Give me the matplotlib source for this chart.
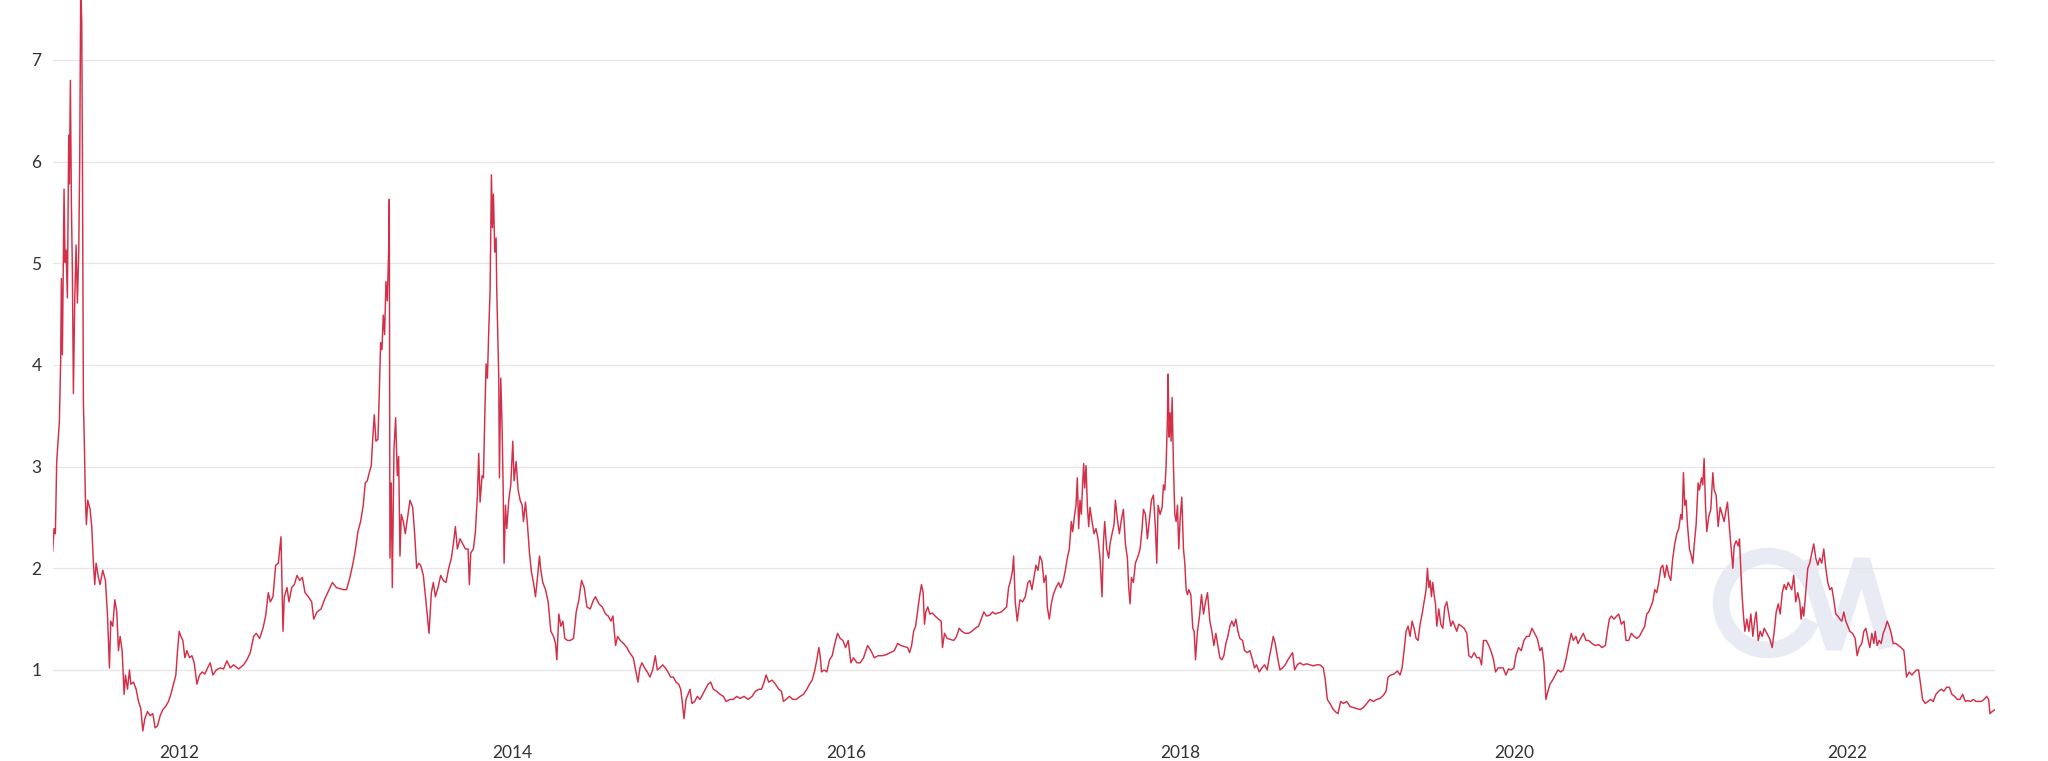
import numpy as np
import matplotlib.pyplot as plt
from matplotlib.patches import Arc
from matplotlib.lines import Line2D

plt.rcParams['font.family'] = ['Lato', 'DejaVu Sans']

# ratio, decimal years, one block per stretch of time
t_2011 = [2011.244, 2011.252, 2011.260, 2011.268, 2011.278, 2011.284, 2011.292, 2011.296, 2011.302, 2011.312,
          2011.318, 2011.324, 2011.332, 2011.340, 2011.344, 2011.350, 2011.356, 2011.362, 2011.368, 2011.376,
          2011.384, 2011.392, 2011.400, 2011.406, 2011.412, 2011.418, 2011.422, 2011.428, 2011.434, 2011.440,
          2011.446, 2011.454, 2011.468, 2011.478, 2011.488, 2011.496, 2011.504, 2011.518, 2011.528, 2011.544,
          2011.560, 2011.572, 2011.584, 2011.592, 2011.604, 2011.616, 2011.628, 2011.638, 2011.648, 2011.660,
          2011.672, 2011.680, 2011.692, 2011.704, 2011.712, 2011.728, 2011.744, 2011.758, 2011.772, 2011.784,
          2011.796, 2011.812, 2011.828, 2011.844, 2011.858, 2011.872, 2011.888, 2011.904, 2011.920, 2011.938,
          2011.952, 2011.968, 2011.982, 2011.992]
v_2011 = [2.17, 2.39, 2.34, 3.05, 3.29, 3.44, 4.06, 4.85, 4.10, 5.73,
          5.01, 5.13, 4.66, 6.26, 5.78, 6.80, 5.59, 4.92, 3.72, 4.63,
          5.18, 4.61, 5.11, 6.02, 7.75, 7.38, 6.06, 3.63, 3.20, 2.67,
          2.43, 2.67, 2.58, 2.41, 2.05, 1.84, 2.05, 1.91, 1.84, 1.98,
          1.88, 1.55, 1.02, 1.48, 1.43, 1.69, 1.57, 1.19, 1.33, 1.19,
          0.76, 0.95, 0.81, 1.00, 0.86, 0.88, 0.81, 0.69, 0.62, 0.40,
          0.52, 0.59, 0.55, 0.57, 0.43, 0.45, 0.55, 0.61, 0.64, 0.69,
          0.76, 0.86, 0.95, 1.19]

t_2012 = [2012.002, 2012.012, 2012.024, 2012.036, 2012.048, 2012.064, 2012.078, 2012.092, 2012.108, 2012.124,
          2012.140, 2012.156, 2012.172, 2012.188, 2012.204, 2012.224, 2012.248, 2012.268, 2012.288, 2012.308,
          2012.328, 2012.358, 2012.388, 2012.408, 2012.428, 2012.448, 2012.464, 2012.484, 2012.504, 2012.520,
          2012.536, 2012.548, 2012.564, 2012.580, 2012.596, 2012.612, 2012.624, 2012.632, 2012.648, 2012.660,
          2012.676, 2012.692, 2012.708, 2012.724, 2012.740, 2012.756, 2012.776, 2012.796, 2012.808, 2012.828,
          2012.852, 2012.872, 2012.892, 2012.920, 2012.944, 2012.985]
v_2012 = [1.38, 1.33, 1.29, 1.12, 1.19, 1.12, 1.14, 1.07, 0.86, 0.95,
          0.98, 0.96, 1.02, 1.07, 0.95, 1.00, 1.02, 1.01, 1.09, 1.02,
          1.05, 1.01, 1.05, 1.10, 1.17, 1.33, 1.36, 1.31, 1.41, 1.53,
          1.76, 1.67, 1.72, 2.03, 2.05, 2.31, 1.38, 1.72, 1.81, 1.67,
          1.81, 1.84, 1.93, 1.88, 1.91, 1.76, 1.72, 1.67, 1.50, 1.57,
          1.60, 1.69, 1.76, 1.86, 1.81, 1.79]

t_2013 = [2013.005, 2013.025, 2013.041, 2013.057, 2013.073, 2013.089, 2013.105, 2013.117, 2013.129, 2013.141,
          2013.153, 2013.161, 2013.171, 2013.181, 2013.193, 2013.201, 2013.209, 2013.217, 2013.225, 2013.233,
          2013.241, 2013.249, 2013.257, 2013.261, 2013.265, 2013.273, 2013.279, 2013.289, 2013.299, 2013.309,
          2013.317, 2013.325, 2013.333, 2013.345, 2013.357, 2013.369, 2013.385, 2013.401, 2013.413, 2013.425,
          2013.437, 2013.449, 2013.465, 2013.481, 2013.499, 2013.513, 2013.525, 2013.537, 2013.553, 2013.569,
          2013.585, 2013.601, 2013.617, 2013.633, 2013.645, 2013.657, 2013.669, 2013.685, 2013.701, 2013.717,
          2013.733, 2013.741, 2013.749, 2013.765, 2013.777, 2013.789, 2013.797, 2013.805, 2013.817, 2013.825,
          2013.833, 2013.841, 2013.849, 2013.857, 2013.865, 2013.873, 2013.879, 2013.885, 2013.893, 2013.901,
          2013.905, 2013.911, 2013.917, 2013.921, 2013.929, 2013.937, 2013.943, 2013.949, 2013.957, 2013.965,
          2013.977, 2013.989]
v_2013 = [1.79, 1.91, 2.03, 2.17, 2.36, 2.46, 2.62, 2.84, 2.86, 2.94,
          3.01, 3.25, 3.51, 3.25, 3.27, 3.72, 4.22, 4.15, 4.49, 4.30,
          4.82, 4.63, 5.11, 5.63, 2.10, 2.84, 1.81, 3.17, 3.48, 2.91,
          3.10, 2.12, 2.53, 2.46, 2.34, 2.48, 2.67, 2.60, 2.34, 2.00,
          2.05, 2.03, 1.93, 1.67, 1.36, 1.76, 1.86, 1.72, 1.81, 1.93,
          1.88, 1.86, 2.00, 2.10, 2.24, 2.41, 2.19, 2.29, 2.24, 2.19,
          2.19, 1.84, 2.15, 2.19, 2.36, 2.72, 3.13, 2.65, 2.91, 2.89,
          3.48, 4.01, 3.87, 4.34, 4.73, 5.87, 5.35, 5.68, 5.11, 5.25,
          4.73, 4.32, 3.87, 2.89, 3.87, 3.39, 2.82, 2.05, 2.62, 2.39,
          2.67, 2.82]

t_2014 = [2014.001, 2014.009, 2014.021, 2014.033, 2014.045, 2014.057, 2014.065, 2014.077, 2014.089, 2014.101,
          2014.113, 2014.125, 2014.137, 2014.149, 2014.161, 2014.169, 2014.181, 2014.197, 2014.213, 2014.229,
          2014.245, 2014.257, 2014.265, 2014.277, 2014.289, 2014.301, 2014.313, 2014.329, 2014.345, 2014.365,
          2014.381, 2014.397, 2014.413, 2014.429, 2014.445, 2014.465, 2014.485, 2014.497, 2014.517, 2014.537,
          2014.557, 2014.573, 2014.589, 2014.601, 2014.617, 2014.629, 2014.645, 2014.665, 2014.685, 2014.701,
          2014.723, 2014.739, 2014.751, 2014.763, 2014.775, 2014.791, 2014.807, 2014.823, 2014.839, 2014.855,
          2014.867, 2014.883, 2014.899, 2014.915, 2014.931, 2014.947, 2014.963, 2014.979, 2014.995]
v_2014 = [3.25, 2.86, 3.05, 2.77, 2.67, 2.62, 2.46, 2.65, 2.43, 2.15,
          1.96, 1.86, 1.72, 1.91, 2.12, 1.98, 1.86, 1.79, 1.67, 1.38,
          1.33, 1.26, 1.10, 1.55, 1.43, 1.48, 1.31, 1.29, 1.29, 1.31,
          1.57, 1.69, 1.88, 1.81, 1.62, 1.60, 1.69, 1.72, 1.65, 1.62,
          1.55, 1.53, 1.48, 1.53, 1.24, 1.33, 1.29, 1.26, 1.22, 1.17,
          1.12, 0.98, 0.88, 1.02, 1.07, 1.02, 0.98, 0.93, 1.00, 1.14,
          1.00, 1.02, 1.05, 1.02, 0.98, 0.93, 0.93, 0.88, 0.86]

t_2015 = [2015.007, 2015.015, 2015.027, 2015.039, 2015.051, 2015.063, 2015.075, 2015.091, 2015.107, 2015.123,
          2015.139, 2015.155, 2015.171, 2015.187, 2015.203, 2015.223, 2015.243, 2015.263, 2015.279, 2015.303,
          2015.323, 2015.343, 2015.363, 2015.387, 2015.411, 2015.435, 2015.455, 2015.475, 2015.491, 2015.507,
          2015.519, 2015.535, 2015.555, 2015.575, 2015.595, 2015.611, 2015.623, 2015.639, 2015.659, 2015.679,
          2015.699, 2015.723, 2015.743, 2015.763, 2015.779, 2015.795, 2015.811, 2015.823, 2015.835, 2015.843,
          2015.851, 2015.867, 2015.883, 2015.899, 2015.915, 2015.931, 2015.947, 2015.963, 2015.979, 2015.995]
v_2015 = [0.81, 0.71, 0.52, 0.71, 0.76, 0.81, 0.67, 0.69, 0.74, 0.71,
          0.76, 0.81, 0.86, 0.88, 0.81, 0.79, 0.76, 0.74, 0.69, 0.71,
          0.71, 0.74, 0.72, 0.74, 0.71, 0.74, 0.79, 0.81, 0.81, 0.88,
          0.95, 0.88, 0.90, 0.86, 0.81, 0.79, 0.69, 0.71, 0.74, 0.71,
          0.71, 0.74, 0.76, 0.81, 0.86, 0.90, 1.00, 1.10, 1.22, 1.14,
          0.98, 1.00, 0.98, 1.10, 1.14, 1.26, 1.36, 1.31, 1.29, 1.22]

t_2016 = [2016.011, 2016.027, 2016.043, 2016.063, 2016.083, 2016.103, 2016.127, 2016.147, 2016.167, 2016.191,
          2016.215, 2016.239, 2016.263, 2016.287, 2016.307, 2016.327, 2016.347, 2016.367, 2016.379, 2016.391,
          2016.403, 2016.415, 2016.440, 2016.450, 2016.460, 2016.468, 2016.476, 2016.488, 2016.500, 2016.516,
          2016.532, 2016.552, 2016.568, 2016.576, 2016.588, 2016.604, 2016.624, 2016.644, 2016.660, 2016.676,
          2016.692, 2016.712, 2016.732, 2016.752, 2016.772, 2016.792, 2016.808, 2016.824, 2016.840, 2016.860,
          2016.876, 2016.892, 2016.908, 2016.928, 2016.948, 2016.960, 2016.972, 2016.984, 2016.996]
v_2016 = [1.29, 1.07, 1.12, 1.07, 1.07, 1.12, 1.24, 1.19, 1.12, 1.14,
          1.14, 1.15, 1.17, 1.19, 1.26, 1.24, 1.23, 1.22, 1.17, 1.24,
          1.38, 1.43, 1.74, 1.84, 1.76, 1.45, 1.57, 1.62, 1.55, 1.56,
          1.53, 1.50, 1.48, 1.22, 1.36, 1.31, 1.30, 1.29, 1.33, 1.41,
          1.38, 1.36, 1.36, 1.38, 1.41, 1.43, 1.50, 1.57, 1.53, 1.54,
          1.57, 1.55, 1.56, 1.57, 1.60, 1.62, 1.81, 1.88, 1.98]

t_2017 = [2017.002, 2017.012, 2017.024, 2017.040, 2017.056, 2017.072, 2017.088, 2017.100, 2017.112, 2017.124,
          2017.136, 2017.148, 2017.160, 2017.172, 2017.184, 2017.196, 2017.204, 2017.216, 2017.228, 2017.240,
          2017.256, 2017.272, 2017.284, 2017.300, 2017.312, 2017.324, 2017.336, 2017.348, 2017.356, 2017.368,
          2017.376, 2017.384, 2017.392, 2017.400, 2017.408, 2017.416, 2017.422, 2017.428, 2017.436, 2017.444,
          2017.452, 2017.460, 2017.472, 2017.484, 2017.496, 2017.508, 2017.520, 2017.532, 2017.540, 2017.548,
          2017.560, 2017.572, 2017.580, 2017.592, 2017.604, 2017.612, 2017.624, 2017.636, 2017.648, 2017.660,
          2017.672, 2017.684, 2017.692, 2017.700, 2017.708, 2017.720, 2017.732, 2017.748, 2017.760, 2017.772,
          2017.780, 2017.792, 2017.804, 2017.816, 2017.828, 2017.840, 2017.852, 2017.860, 2017.868, 2017.880,
          2017.892, 2017.900, 2017.908, 2017.916, 2017.924, 2017.928, 2017.934, 2017.940, 2017.946, 2017.952,
          2017.960, 2017.968, 2017.976, 2017.984, 2017.992]
v_2017 = [2.12, 1.67, 1.48, 1.69, 1.67, 1.72, 1.86, 1.88, 1.79, 1.91,
          2.03, 1.98, 2.12, 2.07, 1.86, 1.93, 1.62, 1.50, 1.65, 1.74,
          1.81, 1.86, 1.81, 1.88, 1.98, 2.10, 2.19, 2.46, 2.36, 2.53,
          2.62, 2.89, 2.39, 2.67, 2.53, 2.84, 3.03, 2.79, 3.01, 2.62,
          2.41, 2.60, 2.46, 2.34, 2.39, 2.29, 2.10, 1.72, 2.24, 2.46,
          2.19, 2.10, 2.24, 2.34, 2.43, 2.67, 2.48, 2.34, 2.48, 2.58,
          2.24, 2.10, 1.81, 1.65, 1.91, 1.86, 2.05, 2.12, 2.19, 2.39,
          2.58, 2.53, 2.29, 2.48, 2.67, 2.72, 2.39, 2.05, 2.62, 2.53,
          2.60, 2.82, 2.77, 3.01, 3.48, 3.91, 3.29, 3.53, 3.25, 3.68,
          3.01, 2.53, 2.46, 2.62, 2.19]

t_2018 = [2018.000, 2018.010, 2018.020, 2018.028, 2018.036, 2018.044, 2018.052, 2018.064, 2018.076, 2018.084,
          2018.092, 2018.104, 2018.116, 2018.128, 2018.140, 2018.152, 2018.164, 2018.178, 2018.190, 2018.202,
          2018.214, 2018.226, 2018.238, 2018.250, 2018.262, 2018.274, 2018.286, 2018.298, 2018.310, 2018.322,
          2018.334, 2018.346, 2018.358, 2018.374, 2018.386, 2018.402, 2018.418, 2018.434, 2018.446, 2018.458,
          2018.474, 2018.490, 2018.506, 2018.522, 2018.534, 2018.546, 2018.558, 2018.570, 2018.582, 2018.598,
          2018.614, 2018.630, 2018.646, 2018.662, 2018.674, 2018.686, 2018.702, 2018.718, 2018.738, 2018.758,
          2018.778, 2018.798, 2018.818, 2018.838, 2018.858, 2018.870, 2018.882, 2018.898, 2018.914, 2018.930,
          2018.946, 2018.962, 2018.978, 2018.998]
v_2018 = [2.48, 2.70, 2.19, 2.05, 1.79, 1.74, 1.79, 1.74, 1.41, 1.38,
          1.10, 1.38, 1.53, 1.74, 1.55, 1.67, 1.76, 1.48, 1.38, 1.24,
          1.36, 1.24, 1.12, 1.10, 1.14, 1.26, 1.33, 1.43, 1.48, 1.43,
          1.50, 1.38, 1.31, 1.29, 1.19, 1.17, 1.19, 1.10, 1.02, 1.05,
          0.98, 1.02, 1.05, 1.00, 1.12, 1.22, 1.33, 1.26, 1.14, 1.00,
          1.02, 1.05, 1.10, 1.14, 1.17, 1.00, 1.05, 1.07, 1.05, 1.06,
          1.05, 1.04, 1.05, 1.05, 1.02, 0.90, 0.71, 0.67, 0.62, 0.59,
          0.57, 0.69, 0.67, 0.69]

t_2019 = [2019.018, 2019.038, 2019.058, 2019.078, 2019.098, 2019.118, 2019.138, 2019.158, 2019.178, 2019.198,
          2019.218, 2019.234, 2019.246, 2019.262, 2019.282, 2019.302, 2019.318, 2019.330, 2019.342, 2019.354,
          2019.366, 2019.378, 2019.390, 2019.402, 2019.414, 2019.426, 2019.438, 2019.450, 2019.462, 2019.474,
          2019.482, 2019.490, 2019.498, 2019.506, 2019.514, 2019.522, 2019.530, 2019.538, 2019.550, 2019.562,
          2019.574, 2019.586, 2019.598, 2019.610, 2019.622, 2019.634, 2019.646, 2019.658, 2019.670, 2019.686,
          2019.702, 2019.718, 2019.730, 2019.746, 2019.762, 2019.778, 2019.794, 2019.806, 2019.818, 2019.834,
          2019.850, 2019.866, 2019.878, 2019.890, 2019.906, 2019.936, 2019.952, 2019.968, 2019.984]
v_2019 = [0.64, 0.63, 0.62, 0.61, 0.63, 0.67, 0.71, 0.69, 0.71, 0.72,
          0.75, 0.79, 0.93, 0.95, 0.96, 0.99, 0.95, 1.02, 1.19, 1.38,
          1.43, 1.33, 1.48, 1.41, 1.31, 1.29, 1.45, 1.55, 1.67, 1.79,
          2.00, 1.81, 1.88, 1.72, 1.86, 1.74, 1.65, 1.43, 1.60, 1.45,
          1.41, 1.62, 1.67, 1.55, 1.43, 1.48, 1.43, 1.38, 1.45, 1.43,
          1.41, 1.36, 1.14, 1.12, 1.17, 1.12, 1.12, 1.05, 1.29, 1.29,
          1.24, 1.17, 1.10, 0.98, 1.02, 1.02, 0.95, 1.01, 1.00]

t_2020 = [2020.000, 2020.012, 2020.028, 2020.044, 2020.060, 2020.076, 2020.092, 2020.108, 2020.124, 2020.140,
          2020.156, 2020.168, 2020.180, 2020.192, 2020.204, 2020.216, 2020.232, 2020.248, 2020.264, 2020.280,
          2020.296, 2020.312, 2020.328, 2020.344, 2020.356, 2020.372, 2020.384, 2020.400, 2020.416, 2020.432,
          2020.448, 2020.468, 2020.488, 2020.508, 2020.528, 2020.548, 2020.560, 2020.572, 2020.584, 2020.600,
          2020.616, 2020.628, 2020.644, 2020.660, 2020.672, 2020.688, 2020.704, 2020.720, 2020.736, 2020.752,
          2020.768, 2020.784, 2020.796, 2020.808, 2020.820, 2020.832, 2020.844, 2020.856, 2020.868, 2020.880,
          2020.892, 2020.904, 2020.916, 2020.928, 2020.940, 2020.952, 2020.964, 2020.976, 2020.988]
v_2020 = [1.02, 1.14, 1.22, 1.19, 1.29, 1.33, 1.33, 1.41, 1.36, 1.31,
          1.19, 1.22, 1.07, 0.71, 0.79, 0.86, 0.90, 0.95, 1.00, 0.98,
          1.00, 1.10, 1.24, 1.36, 1.29, 1.33, 1.26, 1.31, 1.36, 1.29,
          1.29, 1.26, 1.24, 1.25, 1.22, 1.24, 1.38, 1.50, 1.53, 1.50,
          1.53, 1.55, 1.45, 1.48, 1.29, 1.29, 1.36, 1.33, 1.31, 1.33,
          1.38, 1.43, 1.55, 1.57, 1.62, 1.67, 1.79, 1.76, 1.86, 2.00,
          2.03, 1.91, 2.03, 1.93, 1.88, 2.10, 2.24, 2.34, 2.39]

t_2021 = [2021.000, 2021.008, 2021.016, 2021.024, 2021.032, 2021.040, 2021.052, 2021.064, 2021.072, 2021.080,
          2021.092, 2021.104, 2021.112, 2021.124, 2021.132, 2021.140, 2021.148, 2021.156, 2021.168, 2021.180,
          2021.192, 2021.200, 2021.212, 2021.224, 2021.236, 2021.248, 2021.260, 2021.272, 2021.280, 2021.292,
          2021.304, 2021.312, 2021.320, 2021.332, 2021.344, 2021.352, 2021.360, 2021.368, 2021.376, 2021.384,
          2021.396, 2021.408, 2021.420, 2021.432, 2021.444, 2021.452, 2021.464, 2021.476, 2021.488, 2021.500,
          2021.516, 2021.532, 2021.548, 2021.560, 2021.572, 2021.584, 2021.596, 2021.608, 2021.620, 2021.632,
          2021.644, 2021.665, 2021.677, 2021.689, 2021.701, 2021.713, 2021.721, 2021.729, 2021.737, 2021.749,
          2021.761, 2021.773, 2021.785, 2021.797, 2021.809, 2021.821, 2021.833, 2021.845, 2021.857, 2021.869,
          2021.881, 2021.893, 2021.905, 2021.917, 2021.929, 2021.941, 2021.953, 2021.965, 2021.977, 2021.989]
v_2021 = [2.53, 2.48, 2.94, 2.62, 2.67, 2.43, 2.19, 2.12, 2.05, 2.22,
          2.43, 2.84, 2.77, 2.89, 2.82, 3.08, 2.62, 2.36, 2.51, 2.58,
          2.94, 2.77, 2.72, 2.41, 2.60, 2.53, 2.46, 2.58, 2.65, 2.39,
          2.15, 2.00, 2.22, 2.27, 2.22, 2.29, 1.98, 1.72, 1.53, 1.38,
          1.50, 1.38, 1.55, 1.33, 1.50, 1.57, 1.29, 1.38, 1.33, 1.41,
          1.36, 1.31, 1.22, 1.38, 1.57, 1.65, 1.55, 1.76, 1.84, 1.79,
          1.86, 1.79, 1.93, 1.67, 1.76, 1.67, 1.50, 1.62, 1.53, 1.76,
          2.00, 2.05, 2.15, 2.24, 2.10, 2.03, 2.10, 2.05, 2.19, 2.00,
          1.86, 1.79, 1.81, 1.69, 1.55, 1.53, 1.50, 1.48, 1.57, 1.48]

t_2022 = [2022.001, 2022.013, 2022.029, 2022.045, 2022.057, 2022.069, 2022.085, 2022.097, 2022.109, 2022.121,
          2022.133, 2022.145, 2022.157, 2022.165, 2022.177, 2022.189, 2022.201, 2022.213, 2022.225, 2022.237,
          2022.249, 2022.261, 2022.273, 2022.289, 2022.305, 2022.321, 2022.337, 2022.345, 2022.353, 2022.369,
          2022.385, 2022.401, 2022.413, 2022.425, 2022.437, 2022.449, 2022.465, 2022.481, 2022.497, 2022.513,
          2022.529, 2022.545, 2022.561, 2022.577, 2022.593, 2022.609, 2022.625, 2022.641, 2022.657, 2022.673,
          2022.689, 2022.705, 2022.721, 2022.737, 2022.753, 2022.769, 2022.785, 2022.801, 2022.817, 2022.833,
          2022.845, 2022.853, 2022.865, 2022.883]
v_2022 = [1.43, 1.38, 1.36, 1.31, 1.14, 1.22, 1.26, 1.38, 1.41, 1.31,
          1.22, 1.36, 1.26, 1.38, 1.24, 1.29, 1.26, 1.36, 1.41, 1.48,
          1.43, 1.36, 1.26, 1.26, 1.24, 1.22, 1.19, 1.07, 0.93, 0.98,
          0.95, 0.98, 1.00, 1.00, 0.86, 0.71, 0.67, 0.69, 0.71, 0.69,
          0.76, 0.79, 0.81, 0.79, 0.83, 0.83, 0.76, 0.74, 0.71, 0.71,
          0.76, 0.69, 0.70, 0.69, 0.71, 0.69, 0.69, 0.69, 0.71, 0.74,
          0.71, 0.57, 0.59, 0.61]

years = t_2011 + t_2012 + t_2013 + t_2014 + t_2015 + t_2016 + t_2017 + t_2018 + t_2019 + t_2020 + t_2021 + t_2022
ratio = v_2011 + v_2012 + v_2013 + v_2014 + v_2015 + v_2016 + v_2017 + v_2018 + v_2019 + v_2020 + v_2021 + v_2022

y_ticks = [1, 2, 3, 4, 5, 6, 7]
x_ticks = [2012, 2014, 2016, 2018, 2020, 2022]

fig = plt.figure(figsize=(20.48, 7.61), dpi=100)
ax = fig.add_axes([52.7 / 2048, 26 / 761, (1995 - 52.7) / 2048, 735 / 761])

# watermark logo behind the line, placed in figure fractions
wm = '#e8ebf4'
logo_c = Arc((1768 / 2048, 1 - 603 / 761), 94 / 2048, 94 / 761, theta1=48, theta2=312,
             transform=fig.transFigure, color=wm, lw=12, zorder=0.2)
ax.add_patch(logo_c)
logo_m = Line2D([1806 / 2048, 1834 / 2048, 1862 / 2048, 1887 / 2048],
                [1 - 560 / 761, 1 - 648 / 761, 1 - 560 / 761, 1 - 648 / 761],
                transform=fig.transFigure, color=wm, lw=12, solid_joinstyle='bevel',
                solid_capstyle='butt', zorder=0.2)
ax.add_line(logo_m)

ax.plot(years, ratio, color='#d42f48', lw=1.05, zorder=3)

ax.set_xlim(2011.244, 2022.883)
ax.set_ylim(0.36, 7.59)
ax.set_yticks(y_ticks)
ax.set_xticks(x_ticks)
ax.set_xticklabels([str(x) for x in x_ticks])
ax.grid(axis='y', color='#e6e6e6', lw=0.9)
ax.set_axisbelow(True)
for s in ax.spines.values():
    s.set_visible(False)
ax.tick_params(axis='both', length=0, labelsize=12.5, labelcolor='#333333')
ax.tick_params(axis='y', pad=8)
ax.tick_params(axis='x', pad=7)

fig.savefig('out.png', dpi=100)
